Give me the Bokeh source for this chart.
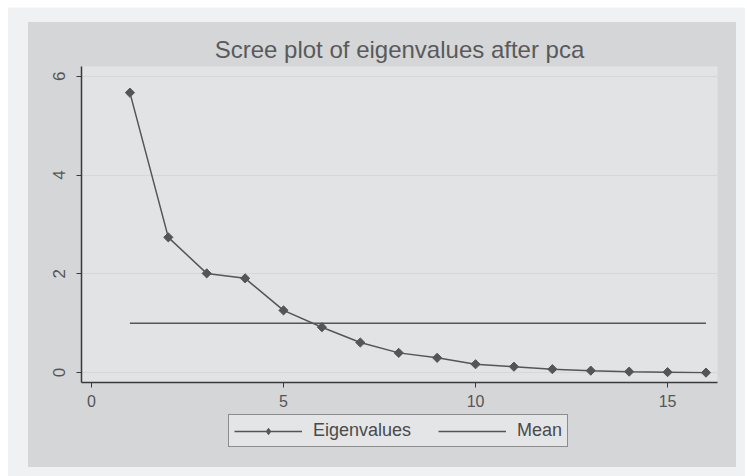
import math
from bokeh.plotting import figure
from bokeh.models import Legend, LegendItem, Column, FixedTicker, Range1d
from bokeh.embed import file_html
from bokeh.resources import INLINE

components = list(range(1, 17))
eigenvalues = [5.67, 2.74, 2.01, 1.91, 1.26, 0.92, 0.61, 0.40, 0.30, 0.17,
               0.12, 0.07, 0.04, 0.02, 0.01, 0.00]
mean_x = [1, 16]
mean_y = [1.0, 1.0]
x_ticks = [0, 5, 10, 15]
y_ticks = [0, 2, 4, 6]
title_text = "Scree plot of eigenvalues after pca"
legend_labels = ["Eigenvalues", "Mean"]

FONT = "Liberation Sans"
INK = "#555555"
OUTER = "#d5d6d8"
PLOTBG = "#e2e3e5"
PAGE = "#f0f1f3"

p = figure(frame_width=636, frame_height=316, output_backend="svg",
           toolbar_location=None,
           x_range=Range1d(-0.26, 16.3), y_range=Range1d(-0.2, 6.2),
           min_border_left=53, min_border_right=19, min_border_top=44,
           min_border_bottom=32,
           background_fill_color=PLOTBG, border_fill_color=OUTER,
           outline_line_color=None)
p.margin = (0, 0, 0, 0)

p.title.text = title_text
p.title.align = "center"
p.title.text_font = FONT
p.title.text_font_size = "24px"
p.title.text_font_style = "normal"
p.title.text_color = "#5a5a5a"
p.title.standoff = 7

for ax in (p.xaxis[0], p.yaxis[0]):
    ax.axis_line_color = "#3a3a3a"
    ax.axis_line_width = 1.5
    ax.major_tick_line_color = "#3a3a3a"
    ax.major_tick_out = 5
    ax.major_tick_in = 0
    ax.minor_tick_line_color = None
    ax.major_label_text_font = FONT
    ax.major_label_text_font_size = "16px"
    ax.major_label_text_color = "#555555"
p.xaxis.ticker = FixedTicker(ticks=x_ticks)
p.yaxis.ticker = FixedTicker(ticks=y_ticks)
p.yaxis.major_label_orientation = "vertical"
p.yaxis.major_label_text_font_size = "17px"
p.xaxis.major_label_standoff = 7
p.yaxis.major_label_standoff = 12

p.xgrid.grid_line_color = None
p.ygrid.grid_line_color = "#d6d7d9"
p.ygrid.grid_line_width = 1
p.ygrid.ticker = FixedTicker(ticks=y_ticks)

p.line(components, eigenvalues, line_color=INK, line_width=1.5)
p.scatter(components, eigenvalues, marker="square", size=6.5,
          angle=math.pi / 4, fill_color=INK, line_color=INK)
p.line(mean_x, mean_y, line_color=INK, line_width=1.5)

# legend strip below the plot (same series, drawn outside its visible range)
q = figure(frame_width=708, frame_height=53, output_backend="svg",
           toolbar_location=None, x_axis_type=None, y_axis_type=None,
           x_range=Range1d(100, 101), y_range=Range1d(100, 101),
           min_border_left=0, min_border_right=0, min_border_top=0,
           min_border_bottom=0,
           background_fill_color=OUTER, border_fill_color=OUTER,
           outline_line_color=None)
q.margin = (0, 0, 0, 0)
q.grid.visible = False
ql1 = q.line(components, eigenvalues, line_color=INK, line_width=1.5)
qs1 = q.scatter(components, eigenvalues, marker="diamond", size=8,
                fill_color=INK, line_color=INK)
ql2 = q.line(mean_x, mean_y, line_color=INK, line_width=1.5)

legend = Legend(items=[LegendItem(label=legend_labels[0], renderers=[ql1, qs1]),
                       LegendItem(label=legend_labels[1], renderers=[ql2])],
                orientation="horizontal", location=(200, 20),
                label_text_font=FONT, label_text_font_size="18px",
                label_text_color="#4a4a4a",
                glyph_width=68, glyph_height=16, label_height=16,
                label_standoff=11, spacing=27, padding=5, margin=0,
                border_line_color="#333333", border_line_width=1.5,
                background_fill_color="#e4e5e7", background_fill_alpha=1)
q.add_layout(legend, "center")

root = Column(p, q, spacing=0,
              styles={"background-color": OUTER,
                      "box-shadow": "-5.5px 0px 0px 14.5px " + PAGE})
root.margin = (22, 0, 0, 28)

open("out.html", "w").write(file_html(root, INLINE))
